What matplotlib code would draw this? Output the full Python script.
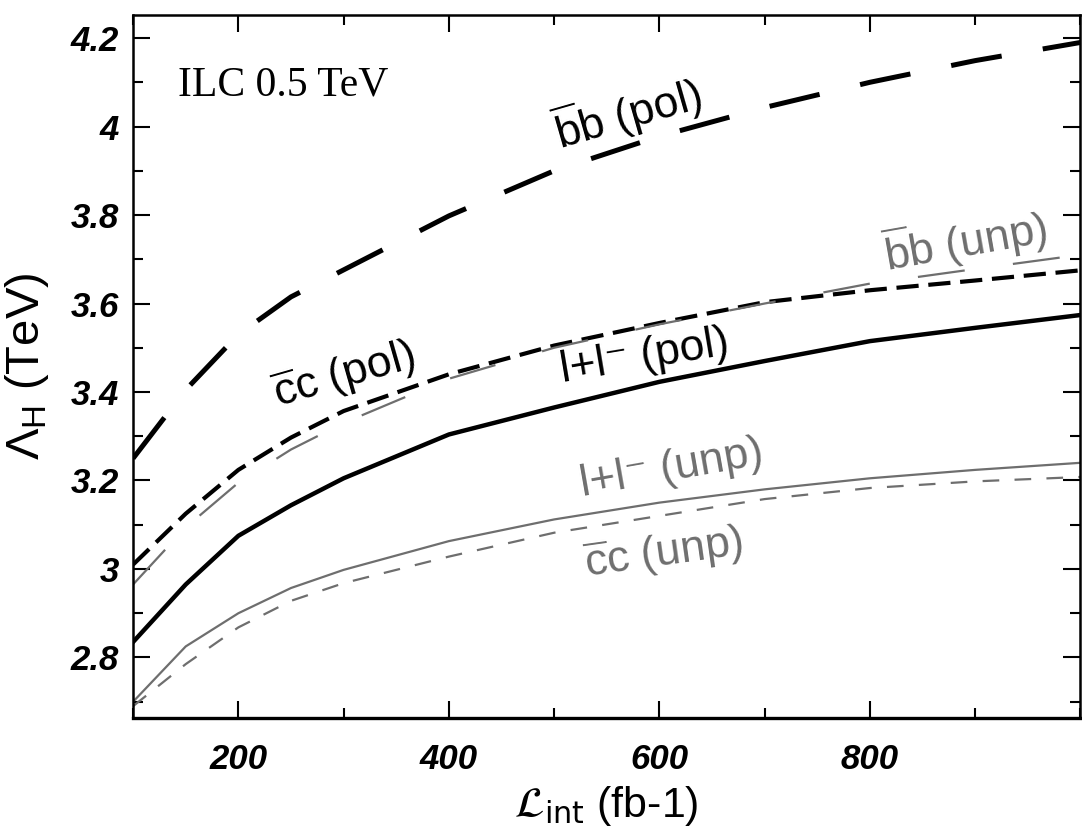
import numpy as np
import matplotlib
matplotlib.use("Agg")
import matplotlib.pyplot as plt
from matplotlib.ticker import MultipleLocator

# integrated luminosity (fb^-1) and reach in Lambda_H (TeV) per channel
lumi = [100, 150, 200, 250, 300, 400, 500, 600, 700, 800, 900, 1000]

bb_pol = [3.25, 3.405, 3.53, 3.615, 3.676, 3.798, 3.90, 3.978, 4.043, 4.10, 4.149, 4.19]
cc_pol = [3.01, 3.125, 3.224, 3.297, 3.357, 3.44, 3.505, 3.556, 3.603, 3.630, 3.652, 3.675]
ll_pol = [2.835, 2.965, 3.075, 3.144, 3.205, 3.304, 3.365, 3.423, 3.470, 3.515, 3.545, 3.574]
bb_unp = [2.965, 3.094, 3.195, 3.27, 3.33, 3.43, 3.50, 3.553, 3.60, 3.645, 3.678, 3.71]
ll_unp = [2.70, 2.825, 2.90, 2.957, 2.998, 3.063, 3.112, 3.15, 3.18, 3.205, 3.224, 3.24]
cc_unp = [2.69, 2.785, 2.868, 2.928, 2.968, 3.028, 3.082, 3.12, 3.158, 3.183, 3.198, 3.208]

GRAY = "#6e6e6e"

plt.rcParams["lines.scale_dashes"] = False
plt.rcParams["mathtext.fontset"] = "custom"
plt.rcParams["mathtext.rm"] = "Liberation Sans"
plt.rcParams["mathtext.it"] = "Liberation Sans:italic"
plt.rcParams["font.family"] = ["Liberation Sans", "DejaVu Sans"]

fig = plt.figure(figsize=(10.82, 8.35), dpi=100)
ax = fig.add_axes([0.123, 0.140, 0.8756, 0.842])

ax.plot(lumi, bb_pol, color="black", lw=3.6, dashes=(37, 30), dash_capstyle="butt")
ax.plot(lumi, cc_pol, color="black", lw=3.0, dashes=(16, 7), dash_capstyle="butt")
ax.plot(lumi, ll_pol, color="black", lw=3.2)
ax.plot(lumi, bb_unp, color=GRAY, lw=1.6, dashes=(34, 35), dash_capstyle="butt")
ax.plot(lumi, ll_unp, color=GRAY, lw=1.6)
ax.plot(lumi, cc_unp, color=GRAY, lw=1.6, dashes=(12, 11), dash_capstyle="butt")

ax.set_xlim(100, 1000)
ax.set_ylim(2.663, 4.252)

ax.xaxis.set_major_locator(MultipleLocator(200))
ax.xaxis.set_minor_locator(MultipleLocator(100))
ax.yaxis.set_major_locator(MultipleLocator(0.2))
ax.yaxis.set_minor_locator(MultipleLocator(0.1))
ax.tick_params(which="both", direction="in", top=True, right=True, width=1.5)
ax.tick_params(which="major", length=12)
ax.tick_params(which="minor", length=7)
ax.tick_params(axis="x", which="major", pad=18)
ax.tick_params(axis="y", which="major", pad=10)
for s in ax.spines.values():
    s.set_linewidth(1.8)
ax.spines["bottom"].set_linewidth(2.4)

ax.set_xticks([200, 400, 600, 800])
ax.set_xticklabels(["200", "400", "600", "800"])
ax.set_yticks([2.8, 3.0, 3.2, 3.4, 3.6, 3.8, 4.0, 4.2])
ax.set_yticklabels(["2.8", "3", "3.2", "3.4", "3.6", "3.8", "4", "4.2"])
for lab in ax.get_xticklabels() + ax.get_yticklabels():
    lab.set_fontsize(25)
    lab.set_fontweight("bold")
    lab.set_fontstyle("italic")

ax.set_xlabel(r"$\mathcal{L}_{\mathrm{int}}$ (fb-1)", fontsize=31,
              math_fontfamily="dejavusans", labelpad=6)
ax.set_ylabel(r"$\Lambda_{\mathrm{H}}$ (TeV)", fontsize=34, labelpad=14)

ax.text(0.047, 0.886, "ILC 0.5 TeV", transform=ax.transAxes,
        fontsize=30, family="Liberation Serif", va="baseline")

# curve labels
lab_kw = dict(ha="center", va="center", rotation_mode="anchor", fontsize=32)
ax.text(570, 4.033, r"$\overline{\mathrm{b}}$b (pol)", rotation=16, color="black", **lab_kw)
ax.text(891, 3.743, r"$\overline{\mathrm{b}}$b (unp)", rotation=10, color=GRAY, **lab_kw)
ax.text(300, 3.438, r"$\overline{\mathrm{c}}$c (pol)", rotation=16, color="black", **lab_kw)
ax.text(586, 3.479, "l+l\u207b (pol)", rotation=9.5, color="black", **lab_kw)
ax.text(612, 3.226, "l+l\u207b (unp)", rotation=10, color=GRAY, **lab_kw)
ax.text(604, 3.036, r"$\overline{\mathrm{c}}$c (unp)", rotation=8, color=GRAY, **lab_kw)

fig.savefig("out.png", dpi=100)
